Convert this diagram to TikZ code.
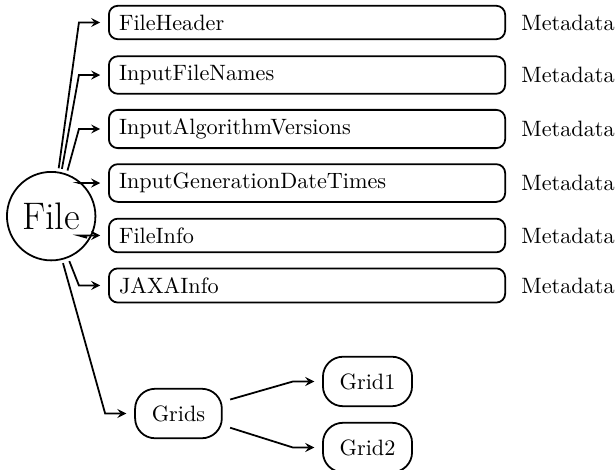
\documentclass[tikz,border=0pt]{standalone}
\usepackage{tikz}
\usetikzlibrary{shapes,arrows,positioning}

\begin{document}
\begin{tikzpicture}[
  root/.style={draw, thick, circle, minimum size=1.4cm, inner sep=0pt, font=\LARGE},
  group/.style={draw, thick, rectangle, rounded corners=4pt, text width=5.95cm, align=left, inner xsep=0.16cm, inner ysep=4pt, anchor=west},
  pill/.style={draw, thick, rectangle, rounded corners=9pt, inner sep=7.5pt},
  kind/.style={inner sep=3.33pt},
  ptr/.style={->, >=stealth, thick, shorten >=3.5pt, shorten <=1.5pt}
]
\useasboundingbox (0,0) rectangle (9.747,-7.421);
\node[root] (file) at (0.81,-3.42) {File};
\node[group] (fh) at (1.709,-0.356) {FileHeader};
\node[group] (ifn) at (1.709,-1.187) {InputFileNames};
\node[group] (iav) at (1.709,-2.041) {InputAlgorithmVersions};
\node[group] (igdt) at (1.709,-2.896) {InputGenerationDateTimes};
\node[group] (fi) at (1.709,-3.726) {FileInfo};
\node[group] (jaxa) at (1.709,-4.517) {JAXAInfo};
\node[kind, right=0.12cm of fh] (fhkind) {Metadata};
\node[kind, right=0.12cm of ifn] (ifnkind) {Metadata};
\node[kind, right=0.12cm of iav] (iavkind) {Metadata};
\node[kind, right=0.12cm of igdt] (igdtkind) {Metadata};
\node[kind, right=0.12cm of fi] (fikind) {Metadata};
\node[kind, right=0.12cm of jaxa] (jaxakind) {Metadata};
\node[pill] (grids) at (2.824,-6.543) {Grids};
\node[pill] (grid1) at (5.815,-6.036) {Grid1};
\node[pill] (grid2) at (5.815,-7.081) {Grid2};
\draw[ptr] (file.81) -- ([xshift=-0.46cm]fh.west) -- (fh.west);
\draw[ptr] (file.77) -- ([xshift=-0.46cm]ifn.west) -- (ifn.west);
\draw[ptr] (file.70) -- ([xshift=-0.46cm]iav.west) -- (iav.west);
\draw[ptr] (file.45) -- ([xshift=-0.46cm]igdt.west) -- (igdt.west);
\draw[ptr] (file.-30) -- ([xshift=-0.46cm]fi.west) -- (fi.west);
\draw[ptr] (file.-68) -- ([xshift=-0.46cm]jaxa.west) -- (jaxa.west);
\draw[ptr] (file.-76) -- ([xshift=-0.46cm]grids.west) -- (grids.west);
\draw[ptr, shorten <=3.5pt] (grids.15) -- ([xshift=-0.46cm]grid1.west) -- (grid1.west);
\draw[ptr, shorten <=3.5pt] (grids.-15) -- ([xshift=-0.46cm]grid2.west) -- (grid2.west);
\end{tikzpicture}
\end{document}
